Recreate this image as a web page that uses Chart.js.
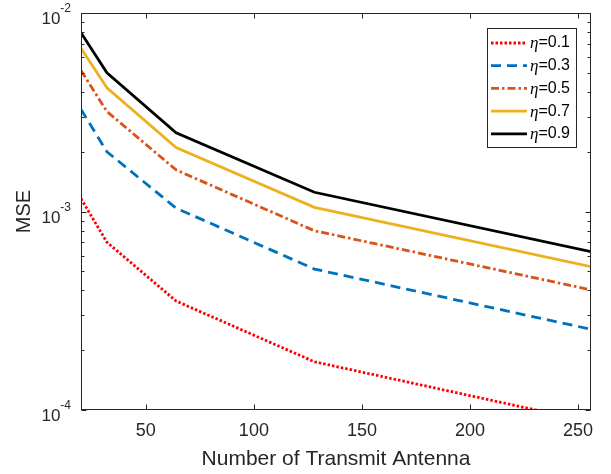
<!DOCTYPE html>
<html>
<head>
<meta charset="utf-8">
<script src="https://cdn.jsdelivr.net/npm/chart.js@4/dist/chart.umd.min.js"></script>
<style>
  html, body { margin: 0; padding: 0; background: #fff; }
  #wrap { width: 611px; height: 474px; }
</style>
</head>
<body>
<div id="wrap"><canvas id="mseChart" width="611" height="474"></canvas></div>
<script>
// number of transmit antennas
const antennas = [20, 32, 64, 128, 256];
// MSE per eta
const eta01 = [1.16e-3, 7.0e-4, 3.54e-4, 1.75e-4, 8.7e-5];
const eta03 = [3.27e-3, 2.0e-3, 1.04e-3, 5.13e-4, 2.55e-4];
const eta05 = [5.13e-3, 3.19e-3, 1.62e-3, 8.0e-4, 4.03e-4];
const eta07 = [6.64e-3, 4.2e-3, 2.1e-3, 1.05e-3, 5.27e-4];
const eta09 = [7.96e-3, 5.0e-3, 2.49e-3, 1.25e-3, 6.27e-4];
const etaNames = ['0.1', '0.3', '0.5', '0.7', '0.9'];
const xTicks = [50, 100, 150, 200, 250];
const yDecades = [-4, -3, -2];

const axisColor = '#262626';
const fontFamily = "'Liberation Sans', Arial, Helvetica, sans-serif";

const toPoints = (vals) => antennas.map((x, i) => ({ x: x, y: vals[i] }));

const makeSet = (name, vals, color, dash) => ({
    label: name,
    data: toPoints(vals),
    borderColor: color,
    backgroundColor: color,
    borderWidth: 2.8,
    borderDash: dash,
    pointRadius: 0,
    tension: 0,
    fill: false,
    clip: 0
});

// box, inward ticks and 10^n labels like matlab
const matlabAxes = {
    id: 'matlabAxes',
    afterDatasetsDraw(chart) {
        const { ctx, chartArea: a, scales } = chart;
        const l = Math.round(a.left) + 0.5, r = Math.round(a.right) - 0.5;
        const t = Math.round(a.top) + 0.5, b = Math.round(a.bottom) - 0.5;
        ctx.save();
        ctx.strokeStyle = axisColor;
        ctx.lineWidth = 1;
        ctx.beginPath();
        scales.x.ticks.forEach(tk => {
            const px = Math.round(scales.x.getPixelForValue(tk.value)) + 0.5;
            ctx.moveTo(px, b); ctx.lineTo(px, b - 5);
            ctx.moveTo(px, t); ctx.lineTo(px, t + 5);
        });
        scales.y.ticks.forEach(tk => {
            const py = Math.round(scales.y.getPixelForValue(tk.value)) + 0.5;
            const major = Math.abs(Math.log10(tk.value) - Math.round(Math.log10(tk.value))) < 1e-9;
            const len = major ? 5 : 3;
            ctx.moveTo(l, py); ctx.lineTo(l + len, py);
            ctx.moveTo(r, py); ctx.lineTo(r - len, py);
        });
        ctx.stroke();
        ctx.strokeRect(l, t, r - l, b - t);

        ctx.fillStyle = axisColor;
        yDecades.forEach(p => {
            const py = scales.y.getPixelForValue(Math.pow(10, p));
            const exp = String(p);
            ctx.font = '12px ' + fontFamily;
            const ew = ctx.measureText(exp).width;
            ctx.textBaseline = 'alphabetic';
            ctx.textAlign = 'left';
            ctx.fillText(exp, 71 - ew, py - 1);
            ctx.font = '17px ' + fontFamily;
            ctx.textAlign = 'right';
            ctx.fillText('10', 71 - ew, py + 11);
        });
        ctx.restore();
    }
};

// legend box with line samples
const lineLegend = {
    id: 'lineLegend',
    afterDraw(chart) {
        const { ctx } = chart;
        const bx = 487.5, by = 28.5, bw = 89, bh = 119;
        ctx.save();
        ctx.fillStyle = '#ffffff';
        ctx.fillRect(bx, by, bw, bh);
        ctx.strokeStyle = axisColor;
        ctx.lineWidth = 1;
        ctx.strokeRect(bx, by, bw, bh);
        chart.data.datasets.forEach((ds, i) => {
            const y = 43 + i * 22.7;
            ctx.strokeStyle = ds.borderColor;
            ctx.lineWidth = ds.borderWidth;
            ctx.setLineDash(ds.borderDash || []);
            ctx.beginPath();
            ctx.moveTo(491, y);
            ctx.lineTo(527, y);
            ctx.stroke();
            ctx.setLineDash([]);
            ctx.fillStyle = '#000000';
            ctx.textBaseline = 'middle';
            ctx.textAlign = 'left';
            ctx.font = 'italic 17px "Liberation Serif", "Times New Roman", serif';
            ctx.fillText('\u03b7', 530, y + 1);
            const w = ctx.measureText('\u03b7').width;
            ctx.font = '16px ' + fontFamily;
            ctx.fillText('=' + etaNames[i], 530 + w, y);
        });
        ctx.restore();
    }
};

const yTickValues = [];
yDecades.forEach(p => {
    for (let m = 1; m <= 9; m++) {
        const v = m * Math.pow(10, p);
        if (v <= 1e-2 + 1e-12) yTickValues.push(v);
    }
});

const mseChart = new Chart(document.querySelector('#mseChart'), {
    type: 'line',
    data: {
        datasets: [
            makeSet('\u03b7=0.1', eta01, '#ff0000', [2.5, 2]),
            makeSet('\u03b7=0.3', eta03, '#0072bd', [10, 6]),
            makeSet('\u03b7=0.5', eta05, '#d95319', [8, 3, 2.5, 3]),
            makeSet('\u03b7=0.7', eta07, '#edb120', []),
            makeSet('\u03b7=0.9', eta09, '#000000', [])
        ]
    },
    options: {
        responsive: false,
        animation: false,
        events: [],
        layout: { padding: { left: 0, top: 13, right: 20, bottom: 0 } },
        scales: {
            x: {
                type: 'linear',
                min: 20,
                max: 256,
                afterBuildTicks: (scale) => { scale.ticks = xTicks.map(v => ({ value: v })); },
                afterFit: (scale) => { scale.height = 64; },
                grid: { display: false, drawTicks: false },
                border: { display: false },
                ticks: {
                    padding: 10,
                    color: axisColor,
                    maxRotation: 0,
                    font: { family: fontFamily, size: 18 }
                },
                title: {
                    display: true,
                    text: 'Number of Transmit Antenna',
                    color: axisColor,
                    padding: { top: 0, bottom: 2 },
                    font: { family: fontFamily, size: 21 }
                }
            },
            y: {
                type: 'logarithmic',
                min: 1e-4,
                max: 1e-2,
                afterBuildTicks: (scale) => { scale.ticks = yTickValues.map(v => ({ value: v })); },
                afterFit: (scale) => { scale.width = 81; },
                grid: { display: false, drawTicks: false },
                border: { display: false },
                ticks: { display: false },
                title: {
                    display: true,
                    text: 'MSE',
                    color: axisColor,
                    padding: { top: 12, bottom: 0 },
                    font: { family: fontFamily, size: 20 }
                }
            }
        },
        plugins: {
            legend: { display: false },
            tooltip: { enabled: false }
        }
    },
    plugins: [matlabAxes, lineLegend]
});
</script>
</body>
</html>
